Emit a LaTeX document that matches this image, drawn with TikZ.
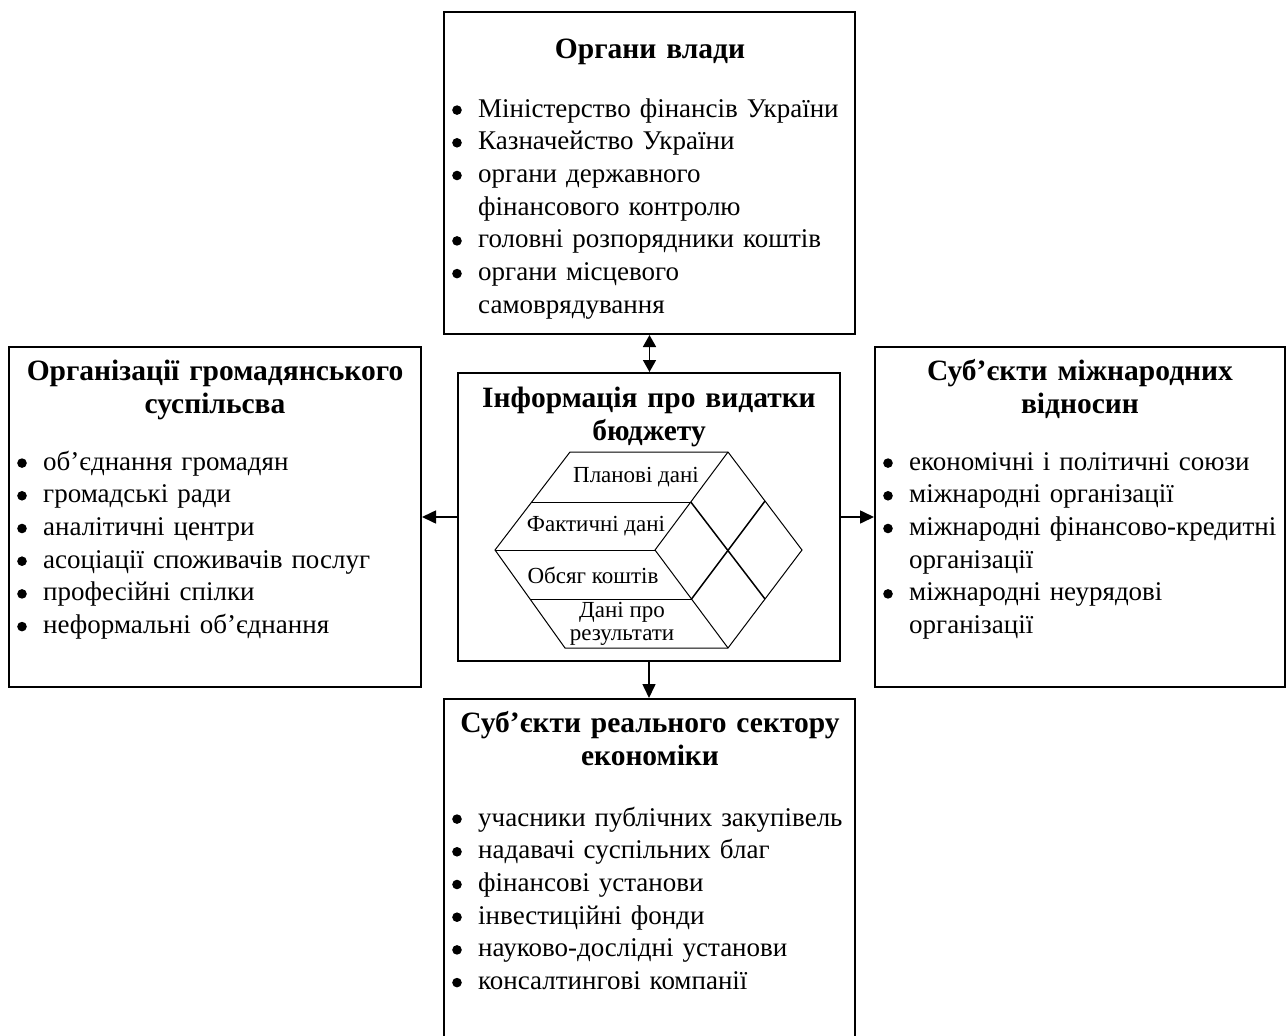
\documentclass[tikz,border=0pt]{standalone}
\usepackage{fontspec}
\setmainfont{Liberation Serif}
\usetikzlibrary{arrows.meta}
\tikzstyle{diagram} = [x=1pt, y=-1pt]
\tikzstyle{panelBox} = [draw, line width=2pt, inner sep=0pt]
\tikzstyle{panelTitle} = [anchor=north, inner sep=0pt, text width=405pt, align=center, font=\fontsize{29.5}{33}\selectfont\bfseries]
\tikzstyle{panelList} = [anchor=north west, inner sep=0pt, text width=405pt, align=left, font=\fontsize{27}{32.7}\selectfont]
\tikzstyle{link} = [line width=1.6pt, -{Triangle[length=14pt, width=13pt]}]
\tikzstyle{dualLink} = [line width=1.6pt, {Triangle[length=12pt, width=13pt]}-{Triangle[length=12pt, width=13pt]}]
\tikzstyle{cubeLine} = [line width=1pt, line join=miter]
\tikzstyle{cubeCross} = [line width=1.5pt]
\tikzstyle{cubeLabel} = [inner sep=0pt, align=center, font=\fontsize{23}{22.5}\selectfont]
\newcommand{\listDot}{\raisebox{2.3pt}{\tikz\fill (0,0) circle (4.8pt);}}
\newcommand{\listEntry}[1]{\noindent\hangindent=26pt\hangafter=1\strut\makebox[26pt][l]{\listDot}#1\par}
\newcommand{\titleLines}[1]{\strut#1}
\begin{document}
\begin{tikzpicture}[diagram]
  \useasboundingbox (0,0) rectangle (1288,1036);

  \node[panelBox, minimum width=411pt, minimum height=322pt] (vlada) at (649.5,173) {};
  \node[panelBox, minimum width=412pt, minimum height=340pt] (hromada) at (215,517) {};
  \node[panelBox, minimum width=382pt, minimum height=288pt] (dani) at (649,517) {};
  \node[panelBox, minimum width=410pt, minimum height=340pt] (svit) at (1080,517) {};
  \node[panelBox, minimum width=411pt, minimum height=350pt] (biznes) at (649.5,874) {};

  \node[panelTitle] (vladaTitle) at (650,34.9) {\titleLines{Органи влади}};
  \node[panelList] (vladaList) at (452,94.1) {
    \listEntry{Міністерство фінансів України}
    \listEntry{Казначейство України}
    \listEntry{органи державного\newline фінансового контролю}
    \listEntry{головні розпорядники коштів}
    \listEntry{органи місцевого\newline самоврядування}};

  \node[panelTitle] (hromadaTitle) at (215,356.9) {\titleLines{Організації громадянського\\суспільсва}};
  \node[panelList] (hromadaList) at (17,447.1) {
    \listEntry{об’єднання громадян}
    \listEntry{громадські ради}
    \listEntry{аналітичні центри}
    \listEntry{асоціації споживачів послуг}
    \listEntry{професійні спілки}
    \listEntry{неформальні об’єднання}};

  \node[panelTitle] (svitTitle) at (1080,356.9) {\titleLines{Суб’єкти міжнародних\\відносин}};
  \node[panelList] (svitList) at (883,447.1) {
    \listEntry{економічні і політичні союзи}
    \listEntry{міжнародні організації}
    \listEntry{\makebox[374pt][s]{міжнародні фінансово-кредитні}\newline організації}
    \listEntry{міжнародні неурядові\newline організації}};

  \node[panelTitle] (biznesTitle) at (650,708.9) {\titleLines{Суб’єкти реального сектору\\економіки}};
  \node[panelList] (biznesList) at (452,803.1) {
    \listEntry{учасники публічних закупівель}
    \listEntry{надавачі суспільних благ}
    \listEntry{фінансові установи}
    \listEntry{інвестиційні фонди}
    \listEntry{науково-дослідні установи}
    \listEntry{консалтингові компанії}};

  \node[panelTitle] (daniTitle) at (649,383.9) {\titleLines{Інформація про видатки\\бюджету}};

  \coordinate (cubeA) at (570,452);
  \coordinate (cubeB) at (728,452);
  \coordinate (cubeC) at (802,550);
  \coordinate (cubeD) at (728,648);
  \coordinate (cubeE) at (565,648);
  \coordinate (cubeF) at (495,550);
  \coordinate (cubeG) at (655,550);
  \draw[cubeLine] (cubeA) -- (cubeB) -- (cubeC) -- (cubeD) -- (cubeE) -- (cubeF) -- cycle;
  \draw[cubeLine] (cubeB) -- (cubeG) -- (cubeD);
  \draw[cubeLine] (cubeF) -- (cubeG);
  \draw[cubeLine] (531.7,502) -- (690.8,502);
  \draw[cubeLine] (530,599) -- (691.5,599);
  \draw[cubeCross] (690.8,502) -- (765,599);
  \draw[cubeCross] (765,501) -- (691.5,599);

  \node[cubeLabel] (planLabel) at (636,477) {Планові дані};
  \node[cubeLabel] (faktLabel) at (596,526) {Фактичні дані};
  \node[cubeLabel] (obsyahLabel) at (593,575) {Обсяг коштів};
  \node[cubeLabel] (rezultLabel) at (622,624) {Дані про\\результати};

  \draw[dualLink] (vlada.south) -- (vlada.south |- dani.north);
  \draw[link] (dani.west) -- (hromada.east);
  \draw[link] (dani.east) -- (svit.west);
  \draw[link] (dani.south) -- (dani.south |- biznes.north);
\end{tikzpicture}
\end{document}
